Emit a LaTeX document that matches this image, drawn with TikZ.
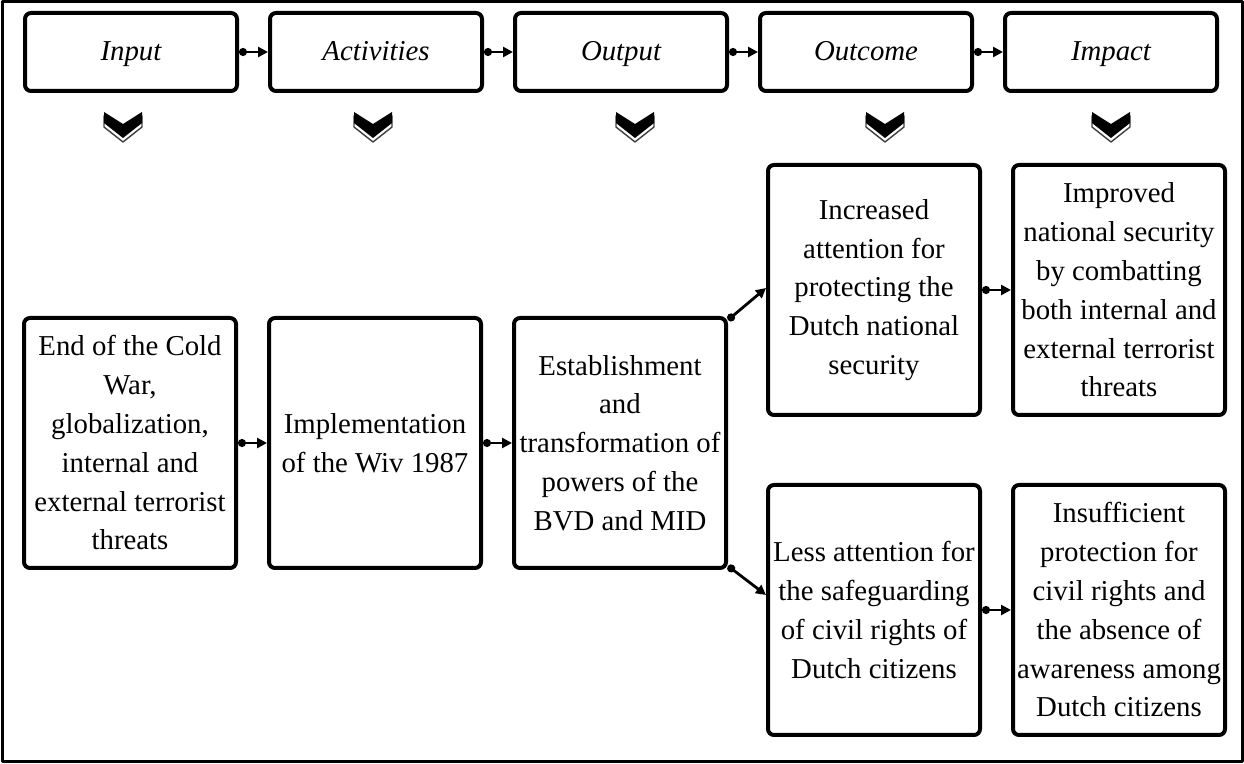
\documentclass[tikz,border=0pt]{standalone}
\usepackage{fontspec}
\setmainfont{Liberation Serif}
\usetikzlibrary{arrows.meta}

\begin{document}
\begin{tikzpicture}[x=0.5pt, y=-0.5pt, node distance={122.5pt}, line join=round,
            head/.style = {draw, rounded corners=3pt, line width=2pt, minimum width=106pt, minimum height=39pt,
                           inner sep=0pt, text height=2.1ex, text depth=0.3ex,
                           font=\fontsize{14.4}{19.5}\selectfont\itshape},
            box/.style = {draw, rounded corners=3pt, line width=2pt, minimum width=106pt, minimum height=125pt,
                          inner sep=0pt, align=center, font=\fontsize{14.4}{19.4}\selectfont},
            link/.style = {line width=1.4pt, {Circle[length=4pt]}-{Triangle[length=5pt,width=5pt]}}]

           \useasboundingbox (0,0) rectangle (1244,764);
           \draw[line width=1.5pt] (2,2) rectangle (1242,762);

           % header row
           \node[head] (1) at (131,52) {Input};
           \node[head] (2) [right of=1] {Activities};
           \node[head] (3) [right of=2] {Output};
           \node[head] (4) [right of=3] {Outcome};
           \node[head] (5) [right of=4] {Impact};

           \foreach \a/\b in {1/2, 2/3, 3/4, 4/5}
               \draw[link] (\a.east) -- (\b.west);

           % chevrons
           \foreach \cx in {123, 373, 635, 885, 1111} {
               \filldraw[fill=white, draw=black!75, line width=0.7pt, shift={(\cx,4)}]
                   (-19,112) -- (0,124) -- (19,112) -- (19,123) -- (0,138) -- (-19,123) -- cycle;
               \fill[shift={(\cx,0)}]
                   (-19,112) -- (0,124) -- (19,112) -- (19,123) -- (0,138) -- (-19,123) -- cycle;
           }

           % boxes
           \node[box] (6) at (130,443) {End of the Cold\\War,\\globalization,\\internal and\\external terrorist\\threats};
           \node[box] (7) [right of=6] {Implementation\\of the Wiv 1987};
           \node[box] (8) [right of=7] {Establishment\\and\\transformation of\\powers of the\\BVD and MID};
           \node[box] (9) at (874,290) {Increased\\attention for\\protecting the\\Dutch national\\security};
           \node[box] (10) [right of=9] {Improved\\national security\\by combatting\\both internal and\\external terrorist\\threats};
           \node[box] (11) at (874,610) {Less attention for\\the safeguarding\\of civil rights of\\Dutch citizens};
           \node[box] (12) [right of=11] {Insufficient\\protection for\\civil rights and\\the absence of\\awareness among\\Dutch citizens};

           \draw[link] (6.east) -- (7.west);
           \draw[link] (7.east) -- (8.west);
           \draw[link] ([yshift=-2pt]8.north east) -- ([yshift=1pt]9.west);
           \draw[link] ([yshift=2pt]8.south east) -- ([yshift=7.5pt]11.west);
           \draw[link] (9.east) -- (10.west);
           \draw[link] (11.east) -- (12.west);
        \end{tikzpicture}
\end{document}
